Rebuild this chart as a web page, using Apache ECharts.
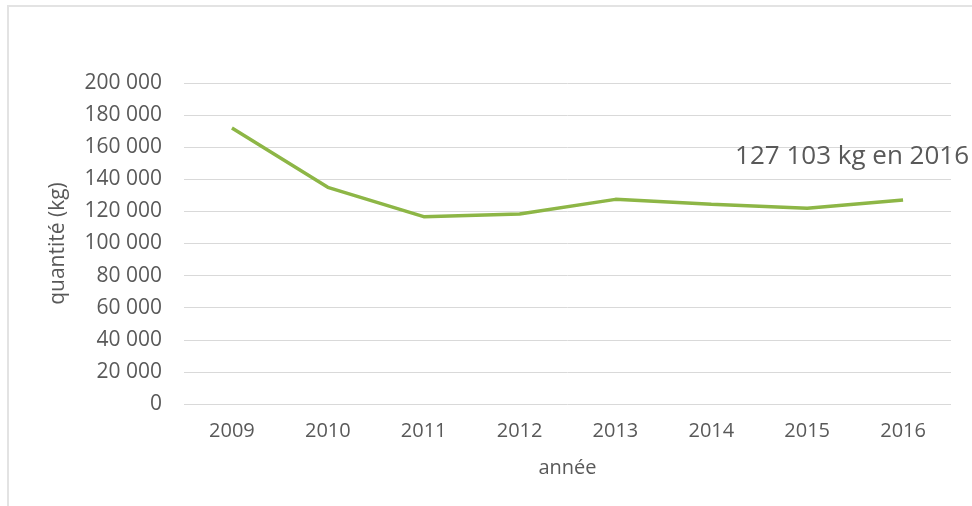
<!DOCTYPE html>
<html>
<head>
<meta charset="utf-8">
<script src="https://cdn.jsdelivr.net/npm/echarts@6/dist/echarts.min.js"></script>
<style>
  html, body { margin: 0; padding: 0; background: #ffffff; }
  #wrap { position: relative; width: 972px; height: 506px; }
  #chart { position: absolute; left: 0; top: 0; width: 972px; height: 506px; }
  #frame { position: absolute; left: 7px; top: 5px; width: 970px; height: 510px;
           border-left: 2px solid #e3e3e3; border-top: 2px solid #e3e3e3; pointer-events: none; }
</style>
</head>
<body>
<div id="wrap">
  <div id="chart"></div>
  <div id="frame"></div>
</div>
<script>
const years = ['2009', '2010', '2011', '2012', '2013', '2014', '2015', '2016'];
const quantities = [172000, 135000, 116700, 118400, 127500, 124500, 122000, 127103];
const annotationText = '127 103 kg en 2016';
const yTicks = { min: 0, max: 200000, interval: 20000 };

function fmt(v) {
  return String(v).replace(/\B(?=(\d{3})+(?!\d))/g, ' ');
}

const seriesData = quantities.map(function (v, i) {
  if (i === quantities.length - 1) {
    return {
      value: v,
      label: {
        show: true,
        formatter: annotationText,
        position: 'top',
        distance: 0,
        offset: [-51, -30],
        opacity: 1,
        fontFamily: 'Open Sans',
        fontSize: 26,
        color: '#595959'
      }
    };
  }
  return v;
});

const chart = echarts.init(document.getElementById('chart'));
chart.setOption({
  animation: false,
  textStyle: { fontFamily: 'Open Sans', color: '#595959' },
  grid: { left: 184, right: 21, top: 83, bottom: 102, containLabel: false },
  xAxis: {
    type: 'category',
    data: years,
    boundaryGap: true,
    name: 'année',
    nameLocation: 'middle',
    nameGap: 54,
    nameTextStyle: { fontFamily: 'Open Sans', fontSize: 20, color: '#595959' },
    axisLine: { show: false },
    axisTick: { show: false },
    axisLabel: { margin: 17, fontFamily: 'Open Sans', fontSize: 20, color: '#595959' }
  },
  yAxis: {
    type: 'value',
    min: yTicks.min,
    max: yTicks.max,
    interval: yTicks.interval,
    name: 'quantité (kg)',
    nameLocation: 'middle',
    nameGap: 115,
    nameRotate: 90,
    nameTextStyle: { fontFamily: 'Open Sans', fontSize: 21, color: '#595959' },
    axisLine: { show: false },
    axisTick: { show: false },
    splitLine: { lineStyle: { color: '#d9d9d9', width: 1 } },
    axisLabel: { margin: 22, fontFamily: 'Open Sans', fontSize: 21, color: '#595959', formatter: fmt }
  },
  series: [{
    type: 'line',
    data: seriesData,
    symbol: 'circle',
    symbolSize: 0,
    showSymbol: true,
    itemStyle: { color: '#8db646' },
    lineStyle: { color: '#8db646', width: 3.5 },
    smooth: false
  }]
});
</script>
</body>
</html>
